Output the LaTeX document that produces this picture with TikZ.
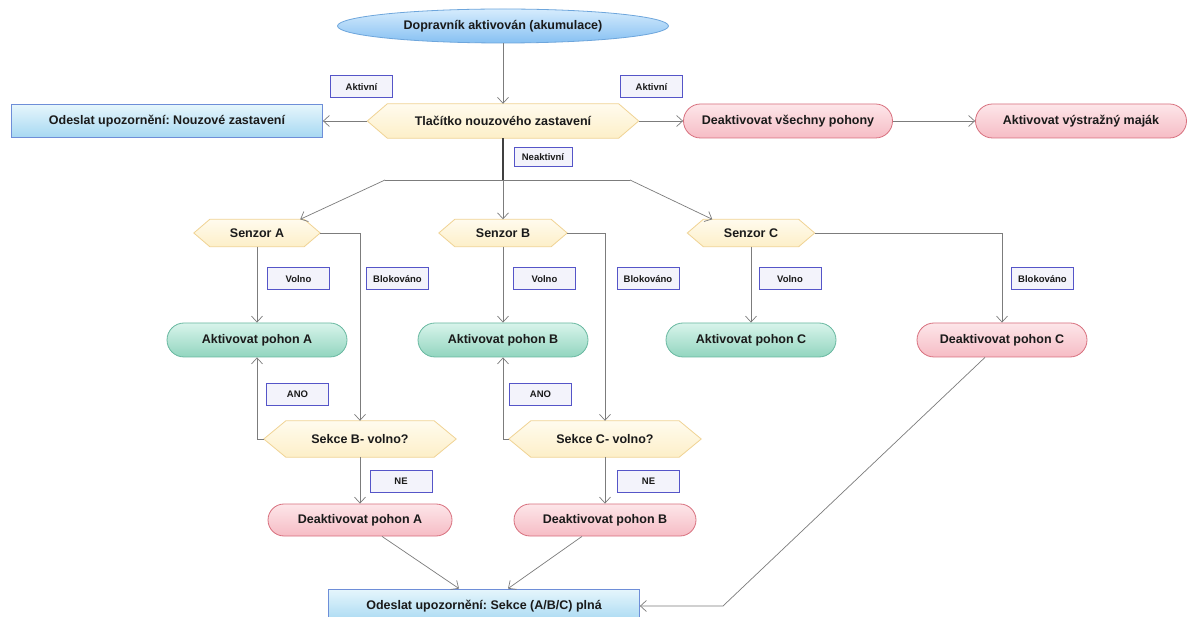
\documentclass[tikz,border=0pt]{standalone}
\usepackage{fontspec}
\setmainfont{Liberation Sans}
\usetikzlibrary{shapes.geometric,shapes.misc,arrows.meta,backgrounds,calc}
\frenchspacing
\definecolor{txt}{HTML}{1A1A1A}
\definecolor{ellTop}{HTML}{D6ECFD}
\definecolor{ellBot}{HTML}{86C0F2}
\definecolor{ellBd}{HTML}{6EA6DC}
\definecolor{recTop}{HTML}{E6F6FC}
\definecolor{recBot}{HTML}{A6D8F2}
\definecolor{recBd}{HTML}{6E8ED8}
\definecolor{pinkTop}{HTML}{FDE6E9}
\definecolor{pinkBot}{HTML}{F6BCC5}
\definecolor{pinkBd}{HTML}{D8707E}
\definecolor{grnTop}{HTML}{D8F4EB}
\definecolor{grnBot}{HTML}{92D5BF}
\definecolor{grnBd}{HTML}{68B8A0}
\definecolor{hexTop}{HTML}{FFFBEE}
\definecolor{hexBot}{HTML}{FDEFC8}
\definecolor{hexBd}{HTML}{F0D394}
\definecolor{labFill}{HTML}{F3F3FB}
\definecolor{labBd}{HTML}{5555C8}
\definecolor{lineC}{HTML}{7C7C7C}
\newcommand\hexbg[2]{\path[hexfill] (#1.west) -- ([xshift=#2]#1.north west) -- ([xshift=-#2]#1.north east) -- (#1.east) -- ([xshift=-#2]#1.south east) -- ([xshift=#2]#1.south west) -- cycle;}
\begin{document}
\begin{tikzpicture}[x=1pt,y=-1pt,
  every node/.style={font=\fontsize{12.5}{14}\selectfont\bfseries\frenchspacing, text=txt, inner sep=0pt},
  conn/.style={draw=lineC, line width=0.7pt, -{Straight Barb[length=6pt,width=11pt]}},
  plain/.style={draw=lineC, line width=0.7pt},
  ellip/.style={ellipse, draw=ellBd, line width=0.8pt, top color=ellTop, bottom color=ellBot, minimum width=331pt, minimum height=34pt},
  bluerect/.style={rectangle, draw=recBd, line width=0.8pt, top color=recTop, bottom color=recBot, minimum height=33pt},
  pinkr/.style={rounded rectangle, draw=pinkBd, line width=0.8pt, top color=pinkTop, bottom color=pinkBot, minimum height=34pt},
  grnr/.style={rounded rectangle, draw=grnBd, line width=0.8pt, top color=grnTop, bottom color=grnBot, minimum height=34pt},
  hexn/.style={rectangle},
  hexfill/.style={draw=hexBd, line width=0.8pt, top color=hexTop, bottom color=hexBot},
  lab/.style={rectangle, draw=labBd, fill=labFill, line width=1pt, minimum width=62pt, minimum height=22pt, font=\fontsize{9.5}{11}\selectfont\bfseries}
]
\begin{scope}[on background layer]
  \fill[white] (0,0) rectangle (1192,617);
\end{scope}
\useasboundingbox (0,0) rectangle (1192,617);

% main nodes
\node[ellip] (start) at (503,26) {Dopravník aktivován (akumulace)};
\node[bluerect, minimum width=311pt] (alert1) at (167,121) {Odeslat upozornění: Nouzové zastavení};
\node[hexn, minimum width=271pt, minimum height=34pt] (estop) at (503,121) {Tlačítko nouzového zastavení};
\node[pinkr, minimum width=209pt] (deall) at (788,121) {Deaktivovat všechny pohony};
\node[pinkr, minimum width=211pt] (beacon) at (1081,121) {Aktivovat výstražný maják};

\node[hexn, minimum width=126pt, minimum height=27pt] (sA) at (257,233) {Senzor A};
\node[hexn, minimum width=128pt, minimum height=27pt] (sB) at (503,233) {Senzor B};
\node[hexn, minimum width=127pt, minimum height=27pt] (sC) at (751,233) {Senzor C};

\node[grnr, minimum width=180pt] (aA) at (257,340) {Aktivovat pohon A};
\node[grnr, minimum width=170pt] (aB) at (503,340) {Aktivovat pohon B};
\node[grnr, minimum width=170pt] (aC) at (751,340) {Aktivovat pohon C};
\node[pinkr, minimum width=170pt] (dC) at (1002,340) {Deaktivovat pohon C};

\node[hexn, minimum width=192pt, minimum height=36pt] (qB) at (360,439) {Sekce B- volno?};
\node[hexn, minimum width=192pt, minimum height=36pt] (qC) at (605,439) {Sekce C- volno?};

\node[pinkr, minimum width=184pt, minimum height=32pt] (dA) at (360,520) {Deaktivovat pohon A};
\node[pinkr, minimum width=182pt, minimum height=32pt] (dB) at (605,520) {Deaktivovat pohon B};

\node[bluerect, minimum width=311pt, minimum height=34pt] (alert2) at (484,606) {Odeslat upozornění: Sekce (A/B/C) plná};

% hexagon outlines behind text
\begin{scope}[on background layer]
  \hexbg{estop}{20pt}
  \hexbg{sA}{16pt}
  \hexbg{sB}{16pt}
  \hexbg{sC}{16pt}
  \hexbg{qB}{22pt}
  \hexbg{qC}{22pt}
\end{scope}

% labels
\node[lab] (lAkt1) at (361.5,87) {Aktivní};
\node[lab] (lAkt2) at (651.5,87) {Aktivní};
\node[lab, minimum width=58pt, minimum height=19pt] (lNeak) at (543,157) {Neaktivní};
\node[lab] (lVolA) at (298.5,279) {Volno};
\node[lab] (lBloA) at (397.5,279) {Blokováno};
\node[lab] (lVolB) at (544.5,279) {Volno};
\node[lab] (lBloB) at (648,279) {Blokováno};
\node[lab] (lVolC) at (790,279) {Volno};
\node[lab] (lBloC) at (1042.5,279) {Blokováno};
\node[lab] (lAnoA) at (297.5,394.5) {ANO};
\node[lab] (lAnoB) at (540.5,394.5) {ANO};
\node[lab] (lNeA) at (401,481.5) {NE};
\node[lab] (lNeB) at (648.5,481.5) {NE};

% junction coordinates
\coordinate (j) at (503,180);
\coordinate (jl) at (385,180);
\coordinate (jr) at (630,180);
\coordinate (bend) at (723,606);

% connectors
\draw[conn] (start) -- (estop);
\draw[conn] (estop.west) -- (alert1.east);
\draw[conn] (estop.east) -- (deall.west);
\draw[conn] (deall.east) -- (beacon.west);
\draw[draw=black!75, line width=1.1pt] (estop.south) -- (j);
\draw[plain] (jl) -- (jr);
\draw[conn] (j) -- (sB.north);
\draw[conn] (jl) -- ([xshift=-20pt]sA.north east);
\draw[conn] (jr) -- ([xshift=25pt]sC.north west);

\draw[conn] (sA.south) -- (aA.north);
\draw[conn] (sB.south) -- (aB.north);
\draw[conn] (sC.south) -- (aC.north);
\draw[conn] (sA.east) -| (qB.north);
\draw[conn] (sB.east) -| (qC.north);
\draw[conn] (sC.east) -| (dC.north);

\draw[conn] (qB.west) -| (aA.south);
\draw[conn] (qC.west) -| (aB.south);
\draw[conn] (qB.south) -- (dA.north);
\draw[conn] (qC.south) -- (dB.north);

\draw[conn] ([xshift=22pt]dA.south) -- ([xshift=-25pt]alert2.north);
\draw[conn] ([xshift=-23pt]dB.south) -- ([xshift=24pt]alert2.north);
\draw[conn] ([xshift=-17pt]dC.south) -- (bend) -- (alert2.east);
\end{tikzpicture}
\end{document}
